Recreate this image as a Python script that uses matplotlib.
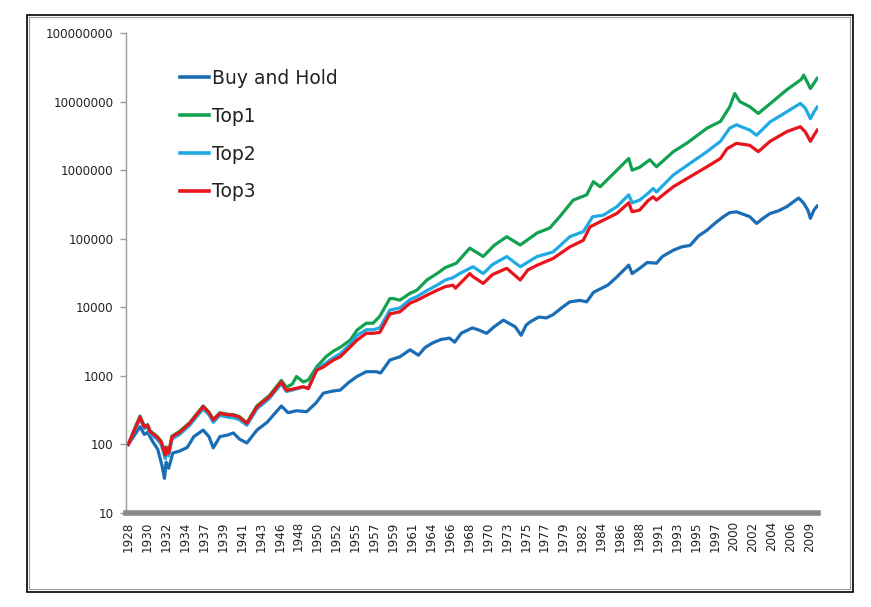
import matplotlib
matplotlib.use("Agg")
import matplotlib.pyplot as plt
from matplotlib.patches import Rectangle
from matplotlib.ticker import FixedLocator, FixedFormatter, NullLocator

plt.rcParams['font.family'] = ['DejaVu Sans']

# ---------------- data ----------------
bh_years = [1928.0, 1928.8, 1929.4, 1929.9, 1930.3, 1930.9, 1931.5, 1932.0, 1932.3, 1932.5,
            1932.8, 1933.3, 1934.1, 1935.0, 1935.8, 1936.9, 1937.6, 1938.1, 1938.9, 1939.8,
            1940.5, 1941.2, 1942.1, 1943.3, 1944.5, 1945.5, 1946.2, 1947.0, 1948.0, 1949.2,
            1950.3, 1951.2, 1952.3, 1953.2, 1954.2, 1955.2, 1956.3, 1957.5, 1958.0, 1959.1,
            1960.3, 1961.5, 1962.5, 1963.3, 1964.2, 1965.2, 1966.2, 1966.8, 1967.6, 1968.9,
            1969.6, 1970.6, 1971.5, 1972.6, 1973.3, 1974.0, 1974.7, 1975.3, 1975.8, 1976.8,
            1977.7, 1978.5, 1979.7, 1980.5, 1981.7, 1982.5, 1983.3, 1984.1, 1985.0, 1986.1,
            1987.5, 1987.9, 1988.8, 1989.7, 1990.8, 1991.5, 1992.8, 1993.8, 1994.8, 1995.8,
            1996.8, 1997.8, 1998.75, 1999.5, 2000.3, 2001.0, 2001.9, 2002.7, 2003.5, 2004.3,
            2005.3, 2006.3, 2007.7, 2008.3, 2008.8, 2009.1, 2009.5, 2009.9]
bh_values = [100, 140, 181, 140, 150, 110, 85, 50, 32, 55,
             45, 75, 80, 90, 130, 162, 130, 89, 130, 137,
             147, 120, 105, 162, 210, 290, 363, 290, 310, 300,
             400, 560, 600, 620, 800, 980, 1150, 1150, 1100, 1700,
             1900, 2400, 2000, 2600, 3030, 3400, 3550, 3100, 4200, 5000,
             4700, 4170, 5200, 6500, 5800, 5200, 3900, 5500, 6150, 7200,
             7000, 7800, 10200, 12000, 12600, 12000, 16500, 18500, 21000, 27800,
             41200, 31000, 37000, 45000, 44000, 55000, 68000, 76000, 80000, 110000,
             133000, 170000, 209000, 240000, 247000, 230000, 209000, 167000, 200000, 233000,
             255000, 294000, 392000, 330000, 260000, 198000, 260000, 300000]

top1_years = [1928.0, 1928.8, 1929.4, 1929.9, 1930.3, 1930.6, 1931.4, 1931.9, 1932.4, 1932.5,
              1932.8, 1933.2, 1934.1, 1935.3, 1936.9, 1937.6, 1938.1, 1938.9, 1939.8, 1940.5,
              1941.2, 1942.1, 1943.3, 1944.8, 1946.2, 1946.8, 1947.5, 1948.0, 1948.8, 1949.4,
              1950.4, 1951.5, 1952.4, 1953.2, 1954.4, 1955.2, 1956.3, 1957.1, 1957.9, 1959.1,
              1959.5, 1960.3, 1961.5, 1962.3, 1963.5, 1964.7, 1965.7, 1967.0, 1968.6, 1969.0,
              1970.2, 1971.5, 1973.0, 1974.6, 1976.6, 1978.1, 1979.3, 1980.9, 1982.5, 1983.3,
              1984.1, 1986.1, 1987.5, 1987.9, 1988.8, 1990.0, 1990.8, 1992.8, 1994.4, 1996.8,
              1998.4, 1999.5, 2000.1, 2000.7, 2001.9, 2002.9, 2004.3, 2006.3, 2008.0, 2008.3,
              2009.1, 2009.9]
top1_values = [100, 175, 260, 185, 195, 158, 132, 112, 72, 92,
               78, 132, 155, 208, 365, 295, 232, 290, 275, 272,
               255, 207, 365, 520, 860, 680, 760, 980, 815, 870,
               1350, 1900, 2300, 2600, 3330, 4650, 5870, 5850, 7400, 13400,
               13400, 12700, 16000, 17700, 25000, 31000, 38000, 43900, 72800, 68000,
               55000, 80000, 107000, 81000, 121000, 143000, 210000, 366000, 436000, 680000,
               572000, 1000000, 1480000, 1000000, 1100000, 1420000, 1120000, 1860000, 2470000, 4090000,
               5130000, 8350000, 13100000, 10000000, 8400000, 6700000, 9300000, 14900000, 21000000, 24300000,
               15500000, 21800000]

top2_years = [1928.0, 1928.8, 1929.4, 1929.9, 1930.3, 1930.6, 1931.4, 1931.9, 1932.4, 1932.5,
              1932.8, 1933.2, 1934.1, 1935.3, 1936.9, 1937.6, 1938.1, 1938.9, 1939.8, 1940.5,
              1941.2, 1942.1, 1943.3, 1944.8, 1946.2, 1946.8, 1947.5, 1948.8, 1949.4, 1950.4,
              1951.2, 1952.4, 1953.2, 1954.4, 1955.2, 1956.3, 1957.1, 1957.9, 1959.1, 1960.3,
              1961.5, 1962.3, 1963.5, 1964.7, 1965.7, 1966.6, 1967.4, 1968.6, 1969.0, 1970.2,
              1971.3, 1973.0, 1974.6, 1976.6, 1978.5, 1980.5, 1982.1, 1983.2, 1984.5, 1986.1,
              1987.5, 1987.9, 1988.8, 1989.8, 1990.4, 1990.8, 1992.8, 1994.8, 1996.8, 1998.4,
              1999.5, 2000.3, 2001.9, 2002.7, 2004.3, 2006.3, 2007.9, 2008.5, 2009.1, 2009.5,
              2009.9]
top2_values = [100, 165, 240, 170, 180, 145, 120, 100, 62, 80,
               68, 120, 140, 190, 330, 270, 210, 265, 250, 245,
               230, 190, 330, 470, 770, 590, 620, 690, 660, 1250,
               1450, 1850, 2100, 2900, 3900, 4700, 4700, 5000, 9100, 9800,
               13000, 14300, 17500, 21000, 25000, 27000, 31000, 37000, 39000, 31000,
               42000, 55000, 39000, 55000, 64000, 107000, 127000, 209000, 221000, 294000,
               437000, 334000, 366000, 460000, 540000, 480000, 850000, 1260000, 1860000, 2630000,
               4090000, 4590000, 3830000, 3230000, 5040000, 7100000, 9400000, 8000000, 5640000, 7000000,
               8300000]

top3_years = [1928.0, 1928.8, 1929.4, 1929.9, 1930.3, 1930.6, 1931.4, 1931.9, 1932.4, 1932.5,
              1932.8, 1933.2, 1934.1, 1935.3, 1936.9, 1937.6, 1938.1, 1938.9, 1939.8, 1940.5,
              1941.2, 1942.1, 1943.3, 1944.8, 1946.2, 1946.8, 1947.5, 1948.8, 1949.4, 1950.4,
              1951.2, 1952.4, 1953.2, 1954.4, 1955.2, 1956.3, 1957.1, 1957.9, 1959.1, 1960.3,
              1961.5, 1962.3, 1963.5, 1964.7, 1965.7, 1966.6, 1966.9, 1968.6, 1969.0, 1970.2,
              1971.3, 1973.0, 1974.6, 1975.5, 1976.6, 1978.5, 1980.5, 1982.1, 1982.9, 1984.5,
              1986.1, 1987.5, 1987.9, 1988.8, 1989.8, 1990.4, 1990.8, 1992.8, 1994.8, 1996.8,
              1998.4, 1999.2, 2000.3, 2001.9, 2002.9, 2004.3, 2006.3, 2007.9, 2008.5, 2009.1,
              2009.5, 2009.9]
top3_values = [100, 170, 250, 180, 190, 153, 129, 110, 70, 90,
               75, 129, 150, 203, 355, 290, 227, 284, 270, 267,
               250, 203, 355, 500, 815, 615, 640, 695, 650, 1210,
               1350, 1700, 1900, 2650, 3330, 4170, 4170, 4300, 8000, 8600,
               11500, 12600, 15000, 17700, 20000, 21000, 19000, 31000, 27900, 22300,
               30000, 37000, 25000, 35000, 41000, 51500, 76000, 95000, 149000, 187000,
               234000, 334000, 247000, 262000, 360000, 408000, 366000, 573000, 803000, 1120000,
               1480000, 2060000, 2460000, 2300000, 1860000, 2630000, 3650000, 4300000, 3600000, 2630000,
               3200000, 3830000]

series_names = ["Buy and Hold", "Top1", "Top2", "Top3"]
x_tick_labels = ["1928", "1930", "1932", "1934", "1937", "1939", "1941", "1943", "1946", "1948",
                 "1950", "1952", "1955", "1957", "1959", "1961", "1964", "1966", "1968", "1970",
                 "1973", "1975", "1977", "1979", "1982", "1984", "1986", "1988", "1991", "1993",
                 "1995", "1997", "2000", "2002", "2004", "2006", "2009"]
y_tick_values = [10, 100, 1000, 10000, 100000, 1000000, 10000000, 100000000]
y_tick_labels = ["10", "100", "1000", "10000", "100000", "1000000", "10000000", "100000000"]

# ---------------- styling ----------------
colors = ["#1A6DB5", "#12A24F", "#1FAAE4", "#E8141B"]

W, H = 871, 607
fig = plt.figure(figsize=(W / 100, H / 100), dpi=100)
fig.patch.set_facecolor("white")

# chart-area border (Excel-like double line)
fig.patches.append(Rectangle((27 / W, 1 - 592 / H), (853 - 27) / W, (592 - 15) / H,
                             transform=fig.transFigure, fill=False, edgecolor="black", lw=1.2))
fig.patches.append(Rectangle((29 / W, 1 - 589 / H), (850 - 29) / W, (589 - 17) / H,
                             transform=fig.transFigure, fill=False, edgecolor="#9a9a9a", lw=0.8))

left, right, top, bottom = 126, 818, 33, 513
ax = fig.add_axes([left / W, 1 - bottom / H, (right - left) / W, (bottom - top) / H])

all_x = [bh_years, top1_years, top2_years, top3_years]
all_y = [bh_values, top1_values, top2_values, top3_values]
for xs, ys, c, name in zip(all_x, all_y, colors, series_names):
    ax.plot(xs, ys, color=c, lw=2.3, label=name, solid_joinstyle="round")

ax.set_yscale("log")
ax.set_ylim(10, 1e8)
ax.set_xlim(1927.73, 2010.0)

ax.yaxis.set_major_locator(FixedLocator(y_tick_values))
ax.yaxis.set_major_formatter(FixedFormatter(y_tick_labels))
ax.yaxis.set_minor_locator(NullLocator())

x_tick_pos = [1928 + 27 * k / 12 for k in range(len(x_tick_labels))]
ax.xaxis.set_major_locator(FixedLocator(x_tick_pos))
ax.xaxis.set_major_formatter(FixedFormatter(x_tick_labels))
ax.xaxis.set_minor_locator(NullLocator())

for s in ["top", "right"]:
    ax.spines[s].set_visible(False)
ax.spines["left"].set_color("#9a9a9a")
ax.spines["left"].set_linewidth(1.0)
ax.spines["bottom"].set_color("#888888")
ax.spines["bottom"].set_linewidth(4.0)

ax.tick_params(axis="y", which="major", direction="out", length=4, width=1, color="#9a9a9a",
               labelsize=8.6, pad=5, labelcolor="#222222")
ax.tick_params(axis="x", which="major", length=0, labelsize=8.6, pad=6, labelrotation=90,
               labelcolor="#222222")

leg = ax.legend(loc="upper left", bbox_to_anchor=(180 / W, 1 - 69 / H),
                bbox_transform=fig.transFigure, frameon=False, fontsize=13.5,
                handlelength=1.55, handletextpad=0.15, labelspacing=1.0,
                borderpad=0, borderaxespad=0)
for t in leg.get_texts():
    t.set_color("#222222")
for l in leg.get_lines():
    l.set_linewidth(2.6)

fig.savefig("out.png", dpi=100, facecolor="white")
